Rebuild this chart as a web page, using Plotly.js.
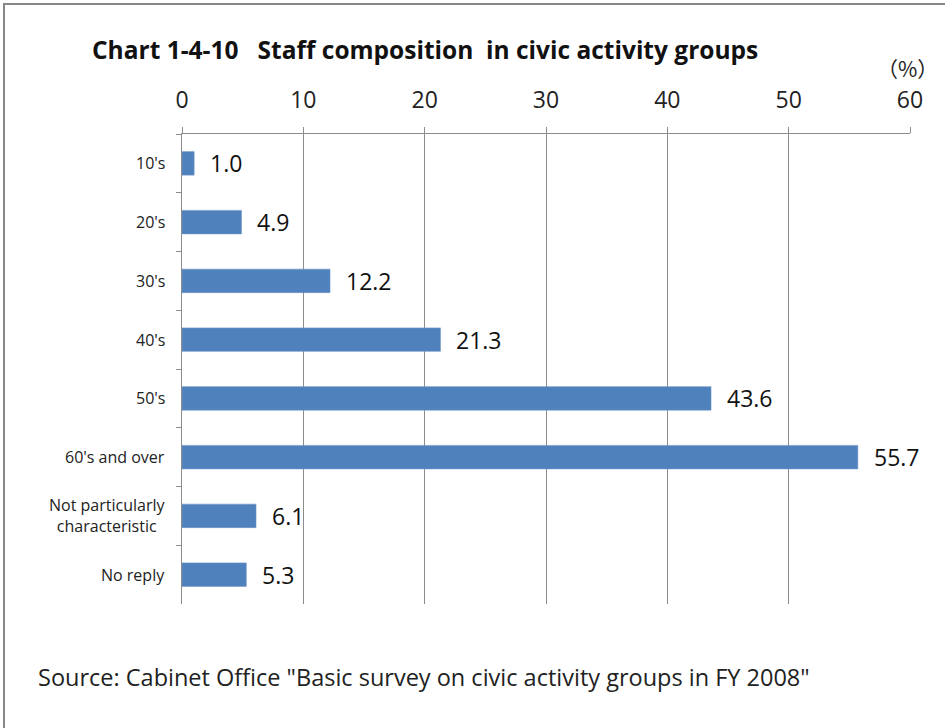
<!DOCTYPE html>
<html>
<head>
<meta charset="utf-8">
<script src="https://cdn.plot.ly/plotly-3.0.1.min.js"></script>
<style>
  html, body { margin: 0; padding: 0; background: #ffffff; }
  #chart { width: 945px; height: 728px; }
</style>
</head>
<body>
<div id="chart"></div>
<script>
// ---- data ----
const categories = ["10's", "20's", "30's", "40's", "50's", "60's and over", "Not particularly characteristic", "No reply"];
const categoryLabels = ["10's", "20's", "30's", "40's", "50's", "60's and over", "Not particularly<br>characteristic", "No reply"];
const values = [1.0, 4.9, 12.2, 21.3, 43.6, 55.7, 6.1, 5.3];
const xTicks = [0, 10, 20, 30, 40, 50, 60];
const titleText = "Chart 1-4-10\u00a0\u00a0\u00a0Staff composition\u00a0\u00a0in civic activity groups";
const unitText = "（%）";
const sourceText = "Source: Cabinet Office \"Basic survey on civic activity groups in FY 2008\"";

// ---- geometry (pixels) ----
const W = 945, H = 728;
const mL = 182, mR = 35, mT = 134, mB = 124;
const pw = W - mL - mR, ph = H - mT - mB;
const px = (x) => (x - mL) / pw;          // pixel x -> paper x
const py = (y) => (H - mB - y) / ph;      // pixel y -> paper y

const FONT = "'Open Sans', 'Noto Sans', sans-serif";
const gray = "#8c8c8c";

const trace = {
  type: "bar",
  orientation: "h",
  y: categories,
  x: values,
  width: 0.4,
  marker: { color: "#4f81bd", line: { color: "#6f95c8", width: 0.6 } },
  hoverinfo: "skip"
};

const annotations = [];
categories.forEach((c, i) => {
  // value labels
  annotations.push({
    x: values[i], y: c, xref: "x", yref: "y",
    text: values[i].toFixed(1), showarrow: false,
    xanchor: "left", yanchor: "middle", xshift: 14,
    font: { family: FONT, size: 23, color: "#111" }
  });
  // category labels
  annotations.push({
    x: 0, y: c, xref: "paper", yref: "y",
    text: categoryLabels[i], showarrow: false,
    xanchor: "right", yanchor: "middle", align: "center", xshift: -15,
    font: { family: FONT, size: 16, color: "#222" }
  });
});
annotations.push({
  x: px(907), y: py(68), xref: "paper", yref: "paper",
  text: unitText, showarrow: false, xanchor: "center", yanchor: "middle",
  font: { family: "'Noto Sans CJK JP', " + FONT, size: 21, color: "#222" }
});
annotations.push({
  x: px(36), y: py(677), xref: "paper", yref: "paper",
  text: sourceText, showarrow: false, xanchor: "left", yanchor: "middle",
  font: { family: FONT, size: 23.5, color: "#222" }
});

const layout = {
  width: W, height: H,
  margin: { l: mL, r: mR, t: mT, b: mB, pad: 0 },
  paper_bgcolor: "#ffffff", plot_bgcolor: "#ffffff",
  showlegend: false,
  title: {
    text: titleText,
    x: 92 / W, xanchor: "left", xref: "container",
    y: 1 - 50 / H, yanchor: "middle", yref: "container",
    font: { family: FONT, size: 24.5, color: "#111", weight: "bold" }
  },
  xaxis: {
    side: "top", range: [0, 60], tickvals: xTicks, ticktext: xTicks.map(String),
    showgrid: true, gridcolor: gray, gridwidth: 1,
    showline: true, linecolor: gray, linewidth: 1,
    ticks: "outside", ticklen: 6, tickcolor: gray, tickwidth: 1,
    zeroline: false, fixedrange: true,
    tickfont: { family: FONT, size: 23, color: "#222" },
    ticklabelstandoff: 10
  },
  yaxis: {
    type: "category", categoryorder: "array", categoryarray: categories,
    range: [7.5, -0.5],
    showgrid: false, showline: true, linecolor: gray, linewidth: 1,
    ticks: "outside", tickson: "boundaries", ticklen: 5, tickcolor: gray, tickwidth: 1,
    showticklabels: false, zeroline: false, fixedrange: true
  },
  annotations: annotations,
  shapes: [
    { type: "line", xref: "paper", yref: "paper", x0: px(3), x1: px(945), y0: py(4), y1: py(4),
      line: { color: "#888888", width: 2 } },
    { type: "line", xref: "paper", yref: "paper", x0: px(4), x1: px(4), y0: py(4), y1: py(728),
      line: { color: "#888888", width: 2 } }
  ]
};

Plotly.newPlot("chart", [trace], layout, { displayModeBar: false, staticPlot: true });
</script>
</body>
</html>
